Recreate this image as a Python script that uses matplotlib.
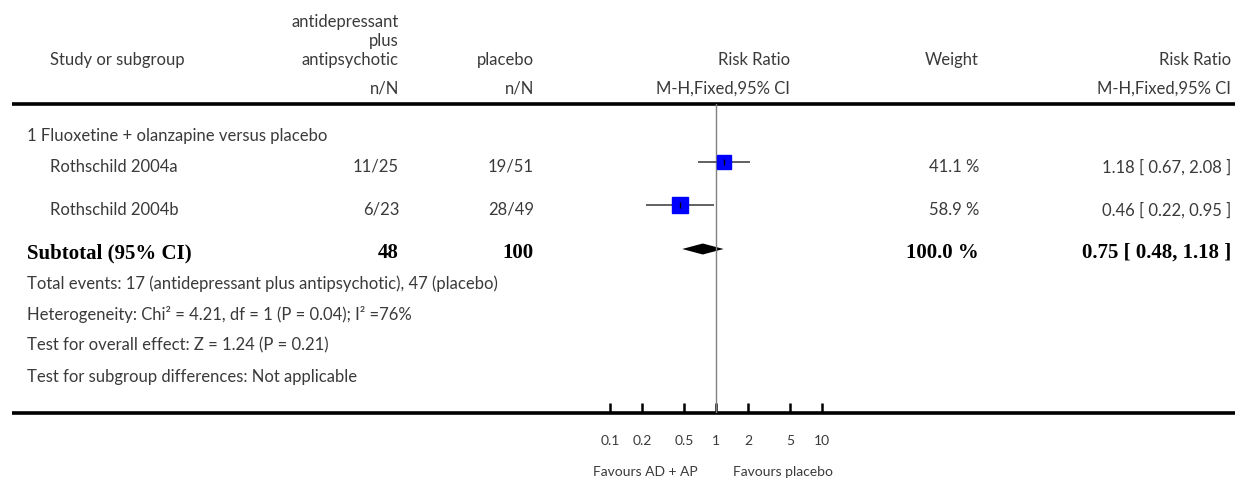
import matplotlib
matplotlib.use("Agg")
import matplotlib.pyplot as plt
from matplotlib.ticker import NullLocator

# canvas in pixels
W, H = 1235, 481
SANS = ["Lato", "DejaVu Sans"]
SERIF = ["Liberation Serif", "DejaVu Serif"]
INK = "#3a3a3a"
FS = 12          # body text
FS_BOLD = 15     # subtotal row
FS_AXIS = 10     # scale labels

# ---- data ----
studies = ["Rothschild 2004a", "Rothschild 2004b"]
trt_events = [11, 6]
trt_total = [25, 23]
ctl_events = [19, 28]
ctl_total = [51, 49]
rr = [1.18, 0.46]
rr_lo = [0.67, 0.22]
rr_hi = [2.08, 0.95]
weights = [41.1, 58.9]
pooled = [0.75, 0.48, 1.18]   # estimate, lower, upper
pooled_n = [48, 100]
pooled_weight = 100.0
tick_vals = [0.1, 0.2, 0.5, 1, 2, 5, 10]
tick_labels = ["0.1", "0.2", "0.5", "1", "2", "5", "10"]

subgroup_title = "1 Fluoxetine + olanzapine versus placebo"
footer_lines = [
    "Total events: 17 (antidepressant plus antipsychotic), 47 (placebo)",
    "Heterogeneity: Chi\u00b2 = 4.21, df = 1 (P = 0.04); I\u00b2 =76%",
    "Test for overall effect: Z = 1.24 (P = 0.21)",
    "Test for subgroup differences: Not applicable",
]

# ---- layout (pixels) ----
X_LEFT, X_STUDY = 27, 50
X_TRT, X_CTL, X_RR, X_W, X_CI = 399, 534, 790, 979, 1231
X_AX0, X_AX1 = 610, 822          # positions of 0.1 and 10
Y_TOPLINE, Y_BOTLINE = 105, 414
ROW_Y = [167, 210]
Y_SUB = 253
FOOT_Y = [284, 315, 345, 377]


def txt(x, y, s, ha="left", bold=False):
    if bold:
        bg.text(x, y, s, ha=ha, va="center", family=SERIF, fontweight="bold",
                fontsize=FS_BOLD, color="black")
    else:
        bg.text(x, y, s, ha=ha, va="center", family=SANS,
                fontsize=FS, color=INK)


fig = plt.figure(figsize=(W / 100, H / 100), dpi=100)
bg = fig.add_axes([0, 0, 1, 1])
bg.set_xlim(0, W)
bg.set_ylim(H, 0)
bg.axis("off")

# header
txt(X_TRT, 22, "antidepressant", ha="right")
txt(X_TRT, 41, "plus", ha="right")
txt(X_TRT, 60, "antipsychotic", ha="right")
txt(X_STUDY, 60, "Study or subgroup")
txt(X_CTL, 60, "placebo", ha="right")
txt(X_RR, 60, "Risk Ratio", ha="right")
txt(X_W, 60, "Weight", ha="right")
txt(X_CI, 60, "Risk Ratio", ha="right")
txt(X_TRT, 89, "n/N", ha="right")
txt(X_CTL, 89, "n/N", ha="right")
txt(X_RR, 89, "M-H,Fixed,95% CI", ha="right")
txt(X_CI, 89, "M-H,Fixed,95% CI", ha="right")

bg.plot([12, W], [Y_TOPLINE, Y_TOPLINE], color="black", lw=2.6, solid_capstyle="butt")
bg.plot([12, W], [Y_BOTLINE, Y_BOTLINE], color="black", lw=2.6, solid_capstyle="butt")

# study rows
txt(X_LEFT, 136, subgroup_title)
for i, name in enumerate(studies):
    y = ROW_Y[i]
    txt(X_STUDY, y, name)
    txt(X_TRT, y, f"{trt_events[i]}/{trt_total[i]}", ha="right")
    txt(X_CTL, y, f"{ctl_events[i]}/{ctl_total[i]}", ha="right")
    txt(X_W, y, f"{weights[i]:.1f} %", ha="right")
    txt(X_CI, y, f"{rr[i]:.2f} [ {rr_lo[i]:.2f}, {rr_hi[i]:.2f} ]", ha="right")

# subtotal
txt(X_LEFT, Y_SUB, "Subtotal (95% CI)", bold=True)
txt(X_TRT, Y_SUB, str(pooled_n[0]), ha="right", bold=True)
txt(X_CTL, Y_SUB, str(pooled_n[1]), ha="right", bold=True)
txt(X_W, Y_SUB, f"{pooled_weight:.1f} %", ha="right", bold=True)
txt(X_CI, Y_SUB, f"{pooled[0]:.2f} [ {pooled[1]:.2f}, {pooled[2]:.2f} ]", ha="right", bold=True)

for y, line in zip(FOOT_Y, footer_lines):
    txt(X_LEFT, y, line)

# ---- forest panel ----
ax = fig.add_axes([X_AX0 / W, 1 - Y_BOTLINE / H, (X_AX1 - X_AX0) / W,
                   (Y_BOTLINE - Y_TOPLINE) / H])
ax.set_xscale("log")
ax.set_xlim(0.1, 10)
ax.set_ylim(Y_BOTLINE, Y_TOPLINE)
ax.patch.set_alpha(0)
for s in ax.spines.values():
    s.set_visible(False)
ax.set_yticks([])
ax.set_xticks(tick_vals)
ax.set_xticklabels(tick_labels)
ax.xaxis.set_minor_locator(NullLocator())
ax.tick_params(axis="x", direction="in", length=7, width=1.8, pad=15,
               labelsize=FS_AXIS, labelcolor=INK, color="black")
for lbl in ax.get_xticklabels():
    lbl.set_family(SANS)

ax.axvline(1, color="#808080", lw=1)

mark_y = [y - 4.5 for y in ROW_Y]
ax.hlines(mark_y, rr_lo, rr_hi, color="#555555", lw=1.3)
for i in range(len(studies)):
    side = 2.2 * weights[i] ** 0.5 * 0.72   # pixels -> points
    ax.plot(rr[i], mark_y[i], marker="s", ms=side, color="#0000ff", ls="none")
    ax.plot(rr[i], mark_y[i], marker="|", ms=4, mew=1, color="black", ls="none")

yd = Y_SUB - 3
ax.fill([pooled[1], pooled[0], pooled[2], pooled[0]],
        [yd, yd - 5.5, yd, yd + 5.5], color="black", lw=0)

# favours labels
for x, label, ha in [(698, "Favours AD + AP", "right"), (733, "Favours placebo", "left")]:
    bg.text(x, 472, label, ha=ha, va="center", family=SANS,
            fontsize=FS_AXIS, color=INK)

fig.savefig("out.png", dpi=100)
